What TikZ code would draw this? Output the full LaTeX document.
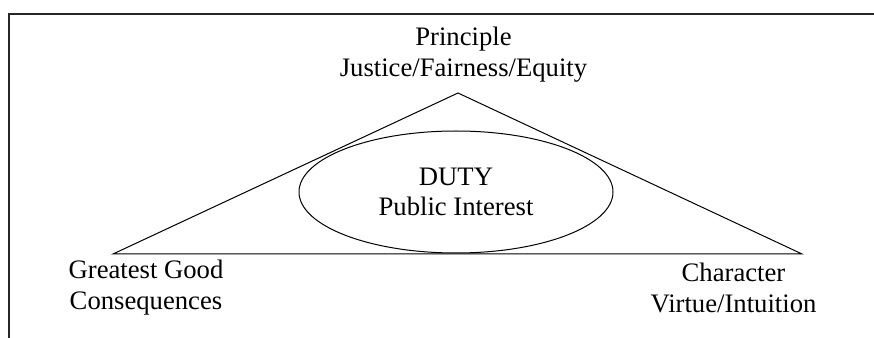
\documentclass[tikz,border=0pt]{standalone}
\usepackage{fontspec}
\setmainfont{Liberation Serif}
\usetikzlibrary{shapes.geometric}
\begin{document}
\begin{tikzpicture}[x=0.75pt,y=-0.75pt,line width=0.75pt,
  label text/.style={align=center,inner sep=0pt,font=\fontsize{20}{23}\selectfont}]
\useasboundingbox (0,0) rectangle (874,338);

% Frame
\draw[line width=1.2pt,black!85] (874,14) -- (9,14) -- (9,338);

% Triangle corners
\coordinate (apex) at (458,93);
\coordinate (left) at (113,254);
\coordinate (right) at (802,254);
\draw (apex) -- (left) -- (right) -- cycle;

% Centre ellipse
\node[ellipse,draw,label text,minimum width=235.5pt,minimum height=91.5pt] (duty) at (456,192) {DUTY\\Public Interest};

% Corner labels
\node[label text,anchor=north] (principle) at (463.5,27) {Principle\\Justice/Fairness/Equity};
\node[label text,anchor=north] (good) at (146,259.5) {Greatest Good\\Consequences};
\node[label text,anchor=north] (character) at (733.5,262.5) {Character\\Virtue/Intuition};
\end{tikzpicture}
\end{document}
